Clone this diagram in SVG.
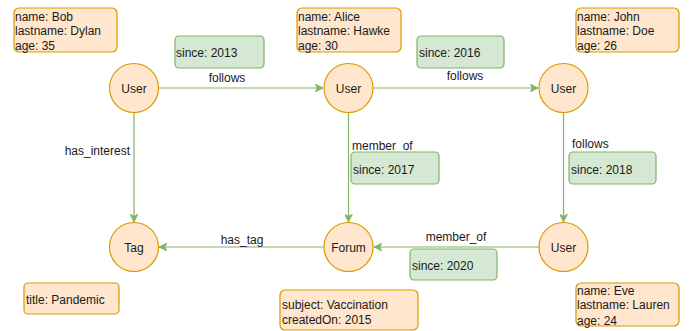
<svg xmlns="http://www.w3.org/2000/svg" width="696" height="331" viewBox="0 0 696 331">
<style>
text{font-family:"Liberation Sans",Arial,sans-serif;font-size:12px;fill:#1a1a1a}
.node{fill:#ffe6cc;stroke:#d79b00;stroke-width:1.2}
.prop{fill:#ffe6cc;stroke:#d79b00;stroke-width:1.2}
.eprop{fill:#d5e8d4;stroke:#82b366;stroke-width:1.2}
.edge{stroke:#82b366;stroke-width:1.2;fill:none}
.c{text-anchor:middle}
</style>
<defs>
<marker id="arr" viewBox="0 0 10 10" refX="10" refY="5" markerWidth="8" markerHeight="8" markerUnits="userSpaceOnUse" orient="auto">
<path d="M0,0 L10,5 L0,10 L3,5 z" fill="#82b366" stroke="#82b366"/>
</marker>
</defs>
<g id="connectors">
<line class="edge" x1="158" y1="88" x2="323" y2="88" marker-end="url(#arr)"/>
<line class="edge" x1="373" y1="88" x2="538" y2="88" marker-end="url(#arr)"/>
<line class="edge" x1="134" y1="112" x2="134" y2="222" marker-end="url(#arr)"/>
<line class="edge" x1="348.5" y1="112" x2="348.5" y2="222" marker-end="url(#arr)"/>
<line class="edge" x1="563.5" y1="112" x2="563.5" y2="222" marker-end="url(#arr)"/>
<line class="edge" x1="324" y1="247" x2="159" y2="247" marker-end="url(#arr)"/>
<line class="edge" x1="539" y1="247" x2="374" y2="247" marker-end="url(#arr)"/>
<text class="c" x="227" y="82">follows</text>
<text class="c" x="465" y="80">follows</text>
<text x="130" y="155" text-anchor="end">has_interest</text>
<text x="352" y="150">member_of</text>
<text x="572" y="148">follows</text>
<text class="c" x="242" y="243.5">has_tag</text>
<text class="c" x="456" y="241">member_of</text>
</g>
<g id="since2013"><rect class="eprop" x="175" y="36" width="89" height="32" rx="4"/><text x="176" y="57">since: 2013</text></g>
<g id="since2016"><rect class="eprop" x="417" y="36" width="87" height="32" rx="4"/><text x="419" y="57">since: 2016</text></g>
<g id="since2017"><rect class="eprop" x="351" y="152" width="88" height="32" rx="4"/><text x="353" y="174">since: 2017</text></g>
<g id="since2018"><rect class="eprop" x="569" y="152" width="87" height="32" rx="4"/><text x="571" y="174">since: 2018</text></g>
<g id="since2020"><rect class="eprop" x="410" y="249" width="87" height="31" rx="4"/><text x="412" y="270">since: 2020</text></g>
<g id="user-bob"><circle class="node" cx="134" cy="88" r="24.5"/><text class="c" x="134" y="92.5">User</text></g>
<g id="user-alice"><circle class="node" cx="348.5" cy="88" r="24.5"/><text class="c" x="348.5" y="92.5">User</text></g>
<g id="user-john"><circle class="node" cx="563.5" cy="88" r="24.5"/><text class="c" x="563.5" y="92.5">User</text></g>
<g id="tag"><circle class="node" cx="134" cy="247" r="24.5"/><text class="c" x="134" y="251.5">Tag</text></g>
<g id="forum"><circle class="node" cx="348.5" cy="247" r="24.5"/><text class="c" x="348.5" y="251.5">Forum</text></g>
<g id="user-eve"><circle class="node" cx="563.5" cy="247" r="24.5"/><text class="c" x="563.5" y="251.5">User</text></g>
<g id="props-bob"><rect class="prop" x="14" y="8" width="103" height="44" rx="5"/><text x="15" y="20.5">name: Bob</text><text x="15" y="35">lastname: Dylan</text><text x="15" y="50">age: 35</text></g>
<g id="props-alice"><rect class="prop" x="297" y="8" width="104" height="44" rx="5"/><text x="298" y="20.5">name: Alice</text><text x="298" y="35">lastname: Hawke</text><text x="298" y="50">age: 30</text></g>
<g id="props-john"><rect class="prop" x="576" y="8" width="103" height="44" rx="5"/><text x="577" y="20.5">name: John</text><text x="577" y="35">lastname: Doe</text><text x="577" y="50">age: 26</text></g>
<g id="props-tag"><rect class="prop" x="24" y="283" width="95" height="31" rx="4"/><text x="26" y="304">title: Pandemic</text></g>
<g id="props-forum"><rect class="prop" x="280" y="290" width="138" height="40" rx="5"/><text x="282" y="308.5">subject: Vaccination</text><text x="282" y="324">createdOn: 2015</text></g>
<g id="props-eve"><rect class="prop" x="576" y="283" width="103" height="43" rx="5"/><text x="577" y="294.5">name: Eve</text><text x="577" y="309">lastname: Lauren</text><text x="577" y="324.5">age: 24</text></g>
</svg>
